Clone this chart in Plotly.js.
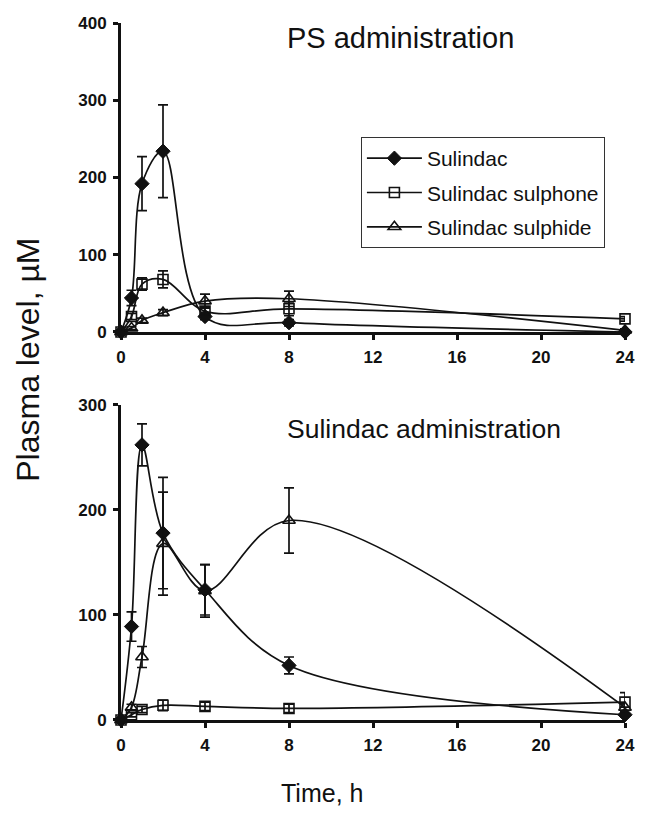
<!DOCTYPE html>
<html><head><meta charset="utf-8">
<script src="https://cdn.plot.ly/plotly-3.0.1.min.js"></script>
<style>body{margin:0;background:#fff}#chart{width:651px;height:834px}</style>
</head><body><div id="chart"></div>
<script>
const times = [0, 0.5, 1, 2, 4, 8, 24];
const xTicks = [0, 4, 8, 12, 16, 20, 24];

// PS administration (top panel)
const psSulindac = [0, 44, 192, 234, 20, 12, 0];
const psSulindacErr = [0, 10, 35, 60, 4, 4, 0];
const psSulphone = [0, 20, 62, 68, 27, 30, 17];
const psSulphoneErr = [0, 4, 8, 11, 5, 9, 3];
const psSulphide = [0, 5, 15, 25, 40, 43, 2];
const psSulphideErr = [0, 2, 3, 4, 9, 10, 2];

// Sulindac administration (bottom panel)
const suSulindac = [0, 89, 262, 178, 124, 52, 5];
const suSulindacErr = [0, 14, 20, 53, 24, 8, 2];
const suSulphone = [0, 5, 10, 14, 13, 11, 17];
const suSulphoneErr = [0, 2, 3, 5, 4, 4, 9];
const suSulphide = [0, 12, 60, 168, 123, 190, 12];
const suSulphideErr = [0, 3, 10, 49, 25, 31, 4];

const names = ['Sulindac', 'Sulindac sulphone', 'Sulindac sulphide'];

const F = 'Liberation Sans, Arial, sans-serif';
const markers = [
  {symbol: 'diamond', size: 11, color: '#111', line: {color: '#111', width: 1}},
  {symbol: 'square-open', size: 10, color: '#111', line: {color: '#111', width: 1.6}},
  {symbol: 'triangle-up-open', size: 11, color: '#111', line: {color: '#111', width: 1.6}}
];
function tr(y, err, i, xa, ya, show) {
  return {
    x: times, y: y, type: 'scatter', mode: 'lines+markers', name: names[i],
    legendgroup: 'g' + i,
    xaxis: xa, yaxis: ya, showlegend: show, cliponaxis: false,
    line: {color: '#111', width: 1.7, shape: 'spline', smoothing: 1},
    marker: markers[i],
    error_y: {type: 'data', array: err, visible: true, color: '#111', thickness: 1.7, width: 5}
  };
}
const data = [
  tr(psSulindac, psSulindacErr, 0, 'x', 'y', true),
  tr(psSulphone, psSulphoneErr, 1, 'x', 'y', true),
  tr(psSulphide, psSulphideErr, 2, 'x', 'y', true),
  tr(suSulindac, suSulindacErr, 0, 'x2', 'y2', false),
  tr(suSulphone, suSulphoneErr, 1, 'x2', 'y2', false),
  tr(suSulphide, suSulphideErr, 2, 'x2', 'y2', false)
];
const ax = {
  showgrid: false, zeroline: false, showline: true, linecolor: '#111', linewidth: 3,
  ticks: 'outside', ticklen: 5, tickwidth: 3, tickcolor: '#111', ticklabelstandoff: 3,
  tickfont: {family: F, size: 17, color: '#111', weight: 'bold'}
};
const layout = {
  width: 651, height: 834, paper_bgcolor: '#fff', plot_bgcolor: '#fff',
  margin: {l: 121, r: 26, t: 23, b: 114},
  font: {family: F, color: '#111'},
  xaxis: Object.assign({}, ax, {range: [0, 24], tickvals: xTicks, anchor: 'y', domain: [0, 1]}),
  yaxis: Object.assign({}, ax, {range: [0, 400], tickvals: [0, 100, 200, 300, 400], domain: [0.5567, 1], anchor: 'x'}),
  xaxis2: Object.assign({}, ax, {range: [0, 24], tickvals: xTicks, anchor: 'y2', domain: [0, 1]}),
  yaxis2: Object.assign({}, ax, {range: [0, 300], tickvals: [0, 100, 200, 300], domain: [0, 0.452], anchor: 'x2'}),
  legend: {x: 0.476, y: 0.8364, xanchor: 'left', yanchor: 'top', bgcolor: '#fff',
    bordercolor: '#333', borderwidth: 1, font: {family: F, size: 21, color: '#111'},
    traceorder: 'grouped', tracegroupgap: 4, itemwidth: 55},
  annotations: [
    {text: 'PS administration', xref: 'paper', yref: 'paper', x: 0.325, y: 0.979, xanchor: 'left', yanchor: 'middle', showarrow: false, font: {family: F, size: 29, color: '#111'}},
    {text: 'Sulindac administration', xref: 'paper', yref: 'paper', x: 0.325, y: 0.4175, xanchor: 'left', yanchor: 'middle', showarrow: false, font: {family: F, size: 26.5, color: '#111'}},
    {text: 'Plasma level, µM', xref: 'paper', yref: 'paper', x: -0.185, y: 0.5165, xanchor: 'center', yanchor: 'middle', textangle: -90, showarrow: false, font: {family: F, size: 32, color: '#111'}},
    {text: 'Time, h', xref: 'paper', yref: 'paper', x: 0.399, y: -0.105, xanchor: 'center', yanchor: 'middle', showarrow: false, font: {family: F, size: 25, color: '#111'}}
  ]
};
Plotly.newPlot('chart', data, layout, {displayModeBar: false, staticPlot: true});
</script></body></html>
